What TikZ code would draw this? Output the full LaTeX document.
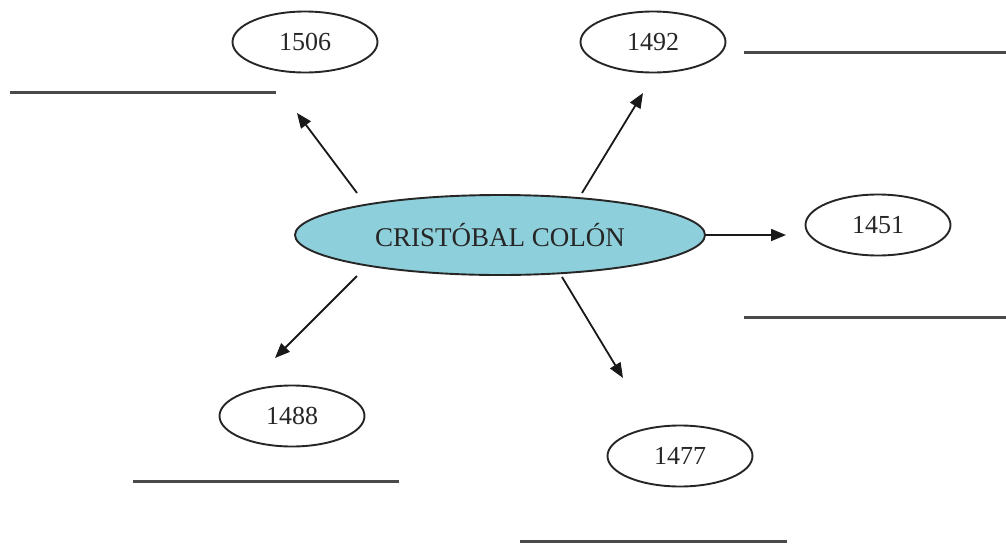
\documentclass[tikz,border=0pt]{standalone}
\usepackage{fontspec}
\setmainfont{Liberation Serif}
\usetikzlibrary{shapes.geometric,arrows.meta}
\definecolor{capcyan}{HTML}{8DCFDA}
\definecolor{linegray}{HTML}{4A4A4A}
\tikzset{
  yearnode/.style={ellipse,draw=black!85,line width=1.9pt,inner sep=0pt,minimum width=145pt,minimum height=61pt,font=\fontsize{26}{29}\selectfont,text=black!85},
  mainnode/.style={ellipse,draw=black!85,line width=1.9pt,fill=capcyan,inner sep=0pt,minimum width=410pt,minimum height=80pt,font=\fontsize{27}{30}\selectfont,text=black!85},
  conn/.style={line width=1.8pt,draw=black!90,-{Triangle[length=15pt,width=12pt]}},
  blank/.style={line width=3pt,draw=linegray}
}
\begin{document}
\begin{tikzpicture}[x=1pt,y=-1pt]
\useasboundingbox (0,0) rectangle (1006,544);
\node[mainnode] (cc) at (500,235) {CRISTÓBAL COLÓN};
\node[yearnode] (y1506) at (305,42) {1506};
\node[yearnode] (y1492) at (653,42) {1492};
\node[yearnode] (y1451) at (878,225) {1451};
\node[yearnode] (y1488) at (292,416) {1488};
\node[yearnode] (y1477) at (680,456) {1477};
% arrow endpoints
\coordinate (s1506) at (357,193);
\coordinate (t1506) at (297,113);
\coordinate (s1492) at (582,193);
\coordinate (t1492) at (643,93);
\coordinate (t1451) at (786,235);
\coordinate (s1488) at (357,276);
\coordinate (t1488) at (275,358);
\coordinate (s1477) at (562,277);
\coordinate (t1477) at (623,378);
\draw[conn] (s1506) -- (t1506);
\draw[conn] (s1492) -- (t1492);
\draw[conn] (cc.east) -- (t1451);
\draw[conn] (s1488) -- (t1488);
\draw[conn] (s1477) -- (t1477);
% blank answer lines
\coordinate (la1) at (10,92);   \coordinate (la2) at (276,92);
\coordinate (lb1) at (744,52);  \coordinate (lb2) at (1006,52);
\coordinate (lc1) at (744,317); \coordinate (lc2) at (1006,317);
\coordinate (ld1) at (133,481); \coordinate (ld2) at (399,481);
\coordinate (le1) at (520,541); \coordinate (le2) at (787,541);
\draw[blank] (la1) -- (la2);
\draw[blank] (lb1) -- (lb2);
\draw[blank] (lc1) -- (lc2);
\draw[blank] (ld1) -- (ld2);
\draw[blank] (le1) -- (le2);
\end{tikzpicture}
\end{document}
